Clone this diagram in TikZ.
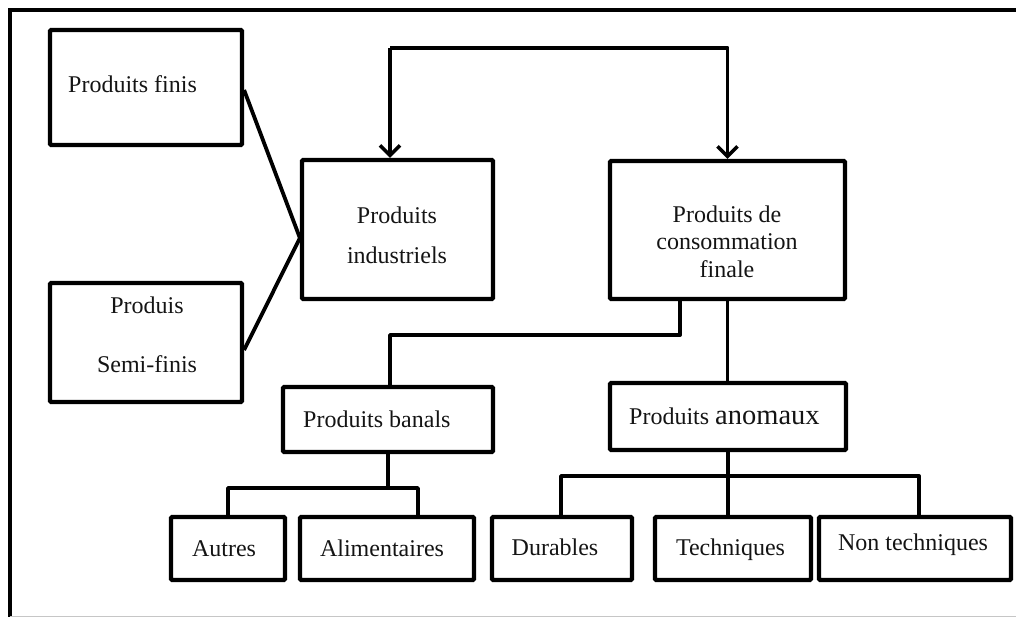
\documentclass[tikz,border=0pt]{standalone}
\usepackage{fontspec}
\setmainfont{Liberation Serif}
\newfontfamily\anomfont{Liberation Serif}
\usetikzlibrary{arrows.meta}

\begin{document}
\begin{tikzpicture}[x=1pt,y=-1pt,
  box/.style 2 args={draw=black, line width=4.2pt, rounded corners=1.2pt,
    minimum width=#1pt, minimum height=#2pt, inner sep=0pt},
  lbl/.style={font=\fontsize{24}{28}\selectfont, inner sep=0pt, text=black!92},
  conn/.style={draw=black, line width=3.8pt, line join=round},
  barb/.style={-{Straight Barb[length=10pt,width=20pt,line width=3.6pt]}},
  frameline/.style={draw=black, line width=4.5pt}
]
\useasboundingbox (0,0) rectangle (1016,617);

% outer frame (top and left) and faint bottom rule
\draw[frameline] (10,617) -- (10,10) -- (1016,10);
\draw[gray!45, line width=1pt] (10,616) -- (1016,616);

% boxes
\node[box={192}{115}] (finis)   at (146,87.5)  {};
\node[box={192}{119}] (semi)    at (146,342.5) {};
\node[box={191}{139}] (indus)   at (397.5,229.5) {};
\node[box={235}{138}] (cons)    at (727.5,230) {};
\node[box={210}{65}]  (banals)  at (388,419.5) {};
\node[box={236}{67}]  (anom)    at (728,416.5) {};
\node[box={114}{63}]  (autres)  at (228,548.5) {};
\node[box={174}{63}]  (alim)    at (387,548.5) {};
\node[box={140}{63}]  (dur)     at (562,548.5) {};
\node[box={156}{63}]  (tech)    at (733,548.5) {};
\node[box={192}{63}]  (nontech) at (915,548.5) {};

% texts
\node[lbl, anchor=base west] (finisT) at (68,93) {Produits finis};
\node[lbl, anchor=base] (semiA) at (147,313) {Produis};
\node[lbl, anchor=base] (semiB) at (147,372) {Semi-finis};
\node[lbl, anchor=base] (indusA) at (397,224) {Produits};
\node[lbl, anchor=base] (indusB) at (397,264) {industriels};
\node[lbl, anchor=base] (consA) at (727,223) {Produits de};
\node[lbl, anchor=base] (consB) at (727,250) {consommation};
\node[lbl, anchor=base] (consC) at (727,277) {finale};
\node[lbl, anchor=base west] (banalsT) at (303,427) {Produits banals};
\node[lbl, anchor=base west] (anomT) at (629,424)
  {Produits {\anomfont\fontsize{28.5}{32}\selectfont anomaux}};
\node[lbl, anchor=base] (autresT) at (224,556) {Autres};
\node[lbl, anchor=base] (alimT) at (382,556) {Alimentaires};
\node[lbl, anchor=base] (durT) at (555,555) {Durables};
\node[lbl, anchor=base] (techT) at (730.5,555) {Techniques};
\node[lbl, anchor=base] (nontechT) at (913,550) {Non techniques};

% left inputs converging on the industrial products box
\draw[conn] ([yshift=-2.5pt]finis.east) -- ([yshift=-8.5pt]indus.west);
\draw[conn] ([yshift=-7.5pt]semi.east) -- ([yshift=-8.5pt]indus.west);

% double arrow across the top
\draw[conn, barb] ([xshift=-7.5pt]indus.north) ++(0,-110) coordinate (topL)
  -| (cons.north);
\draw[conn, barb] (topL) -- ([xshift=-7.5pt]indus.north);

% consumer products split
\draw[conn] ([xshift=-47.5pt]cons.south) -- ++(0,34) -| ([xshift=2pt]banals.north);
\draw[conn] (cons.south) -- (cons.south |- anom.north);

% banals subtree
\draw[conn] (banals.south) -- ++(0,34) coordinate (bj);
\draw[conn] (autres.north) |- (bj) -| ([xshift=31pt]alim.north);

% anomaux subtree
\draw[conn] (anom.south) -- ++(0,24) coordinate (aj);
\draw[conn] ([xshift=-1pt]dur.north) |- (aj) -| ([xshift=4pt]nontech.north);
\draw[conn] (aj) -- (aj |- tech.north);
\end{tikzpicture}
\end{document}
